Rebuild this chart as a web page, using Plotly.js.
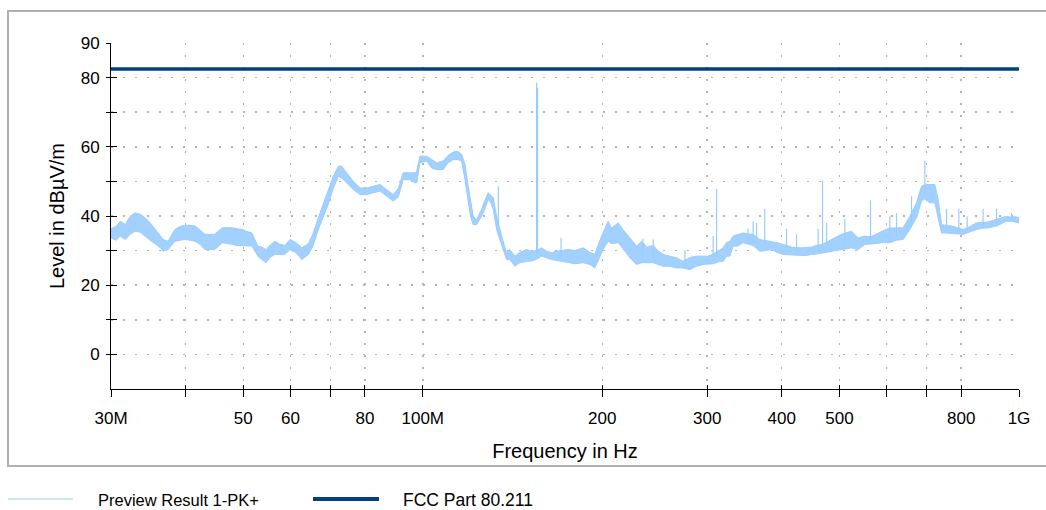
<!DOCTYPE html>
<html>
<head>
<meta charset="utf-8">
<script src="https://cdn.plot.ly/plotly-3.0.1.min.js"></script>
<style>
  html, body { margin: 0; padding: 0; background: #ffffff; }
  #chart { width: 1046px; height: 510px; }
</style>
</head>
<body>
<div id="chart"></div>
<script>
// ---- Data ----
// Preview Result 1-PK+ : envelope of the measured trace (MHz, dBµV/m)
const freqMHz = [
  30.0, 30.6, 31.1, 31.7, 32.3, 32.9, 33.6, 34.2, 34.9, 35.6, 36.3, 36.7, 37.4, 38.4, 39.2, 39.9,
  40.7, 41.5, 42.3, 43.1, 44.0, 44.8, 46.1, 47.0, 47.9, 48.8, 49.8, 50.7, 51.7, 52.9, 53.7, 54.6,
  55.4, 56.5, 57.6, 58.7, 59.9, 61.3, 62.7, 64.3, 65.5, 66.8, 68.1, 69.4, 70.8, 72.2, 73.1, 74.5,
  76.5, 78.5, 80.5, 82.6, 84.8, 87.0, 89.2, 91.0, 92.7, 95.1, 97.0, 97.7, 98.9, 101.5, 103.5, 105.5,
  108.2, 110.3, 112.5, 114.5, 116.2, 117.7, 119.2, 120.2, 121.5, 123.1, 125.5, 127.1, 128.7, 130.1, 131.3, 133.0,
  134.2, 135.6, 138.2, 140.0, 142.7, 145.5, 149.3, 152.4, 155.2, 158.2, 161.3, 164.5, 167.2, 170.3, 175.3, 179.9,
  185.8, 190.7, 194.4, 196.9, 200.7, 204.6, 207.3, 212.7, 216.8, 222.5, 228.4, 232.8, 237.6, 243.5, 247.9, 253.0,
  259.7, 266.5, 273.0, 280.5, 287.9, 295.3, 300.7, 306.9, 315.0, 319.0, 323.2, 327.4, 331.6, 337.6, 344.6, 351.3,
  358.2, 367.6, 374.5, 384.6, 392.5, 402.2, 415.9, 431.8, 440.2, 448.8, 457.5, 468.3, 484.8, 494.3, 503.9, 523.7,
  537.2, 551.3, 563.6, 573.0, 588.1, 597.9, 607.2, 623.1, 639.2, 656.0, 673.2, 686.3, 695.1, 708.6, 722.5, 731.7,
  741.4, 755.8, 770.6, 792.6, 805.9, 818.4, 848.6, 870.5, 882.0, 916.8, 934.6, 952.8, 971.4, 985.0, 1000.0
];
const levelHigh = [
  36.3, 37.0, 38.5, 37.5, 39.9, 40.9, 40.5, 39.5, 38.0, 36.1, 34.5, 33.2, 32.7, 36.1, 37.0, 37.3,
  37.3, 37.1, 36.0, 34.7, 34.7, 34.7, 36.6, 36.6, 36.6, 36.3, 36.1, 35.5, 35.1, 31.3, 31.0, 30.3,
  31.5, 32.7, 31.8, 31.5, 33.2, 32.3, 30.8, 32.0, 35.0, 39.5, 43.3, 47.2, 51.5, 54.4, 54.4, 52.5,
  50.0, 48.1, 48.1, 48.6, 49.1, 47.6, 46.2, 48.0, 52.5, 52.5, 52.5, 52.9, 57.3, 57.3, 56.3, 55.4,
  55.9, 57.5, 58.5, 58.7, 57.8, 55.0, 48.6, 44.8, 39.9, 39.0, 41.9, 44.5, 46.7, 46.0, 45.3, 39.9,
  37.0, 34.2, 29.4, 30.3, 28.4, 29.5, 30.3, 29.8, 30.0, 30.8, 29.8, 29.4, 29.8, 30.0, 30.3, 30.0,
  30.8, 29.5, 28.9, 31.8, 35.1, 38.5, 36.5, 38.0, 36.0, 33.7, 31.3, 32.7, 31.0, 31.5, 30.0, 28.9,
  28.5, 27.9, 26.9, 28.0, 28.4, 28.4, 28.4, 29.0, 30.3, 30.8, 32.3, 32.7, 34.2, 34.7, 35.1, 34.8,
  34.7, 33.2, 33.0, 32.7, 32.3, 31.8, 31.0, 30.8, 30.8, 31.0, 31.5, 31.8, 33.2, 34.0, 34.7, 35.6,
  33.7, 34.2, 34.0, 34.5, 35.6, 36.1, 36.5, 36.6, 36.6, 39.9, 43.8, 48.6, 49.0, 49.1, 49.1, 44.8,
  37.5, 37.3, 37.1, 36.5, 36.1, 36.5, 38.0, 38.2, 38.2, 39.0, 39.5, 39.9, 39.6, 39.8, 39.5
];
const levelLow = [
  33.7, 33.0, 34.2, 33.2, 34.7, 35.6, 35.3, 34.2, 33.0, 31.8, 30.8, 29.8, 30.3, 32.7, 33.0, 33.2,
  33.0, 32.7, 31.8, 30.3, 30.3, 30.3, 32.3, 32.0, 31.8, 31.5, 31.3, 31.3, 31.3, 28.4, 27.4, 26.5,
  28.0, 28.9, 28.9, 28.9, 30.3, 29.4, 27.4, 28.9, 31.5, 36.1, 39.5, 43.3, 48.1, 51.5, 51.0, 49.6,
  47.6, 46.2, 46.2, 46.7, 47.2, 45.7, 44.3, 45.5, 50.5, 50.5, 49.6, 49.6, 55.4, 55.9, 53.9, 53.4,
  53.4, 55.4, 56.3, 56.3, 55.9, 50.5, 44.3, 40.0, 37.5, 37.5, 39.9, 42.0, 44.8, 43.8, 41.9, 36.1,
  34.0, 31.3, 27.4, 27.4, 25.5, 26.5, 26.9, 27.0, 27.5, 28.4, 27.9, 27.4, 27.0, 26.8, 26.5, 26.2,
  26.5, 26.0, 25.0, 27.4, 30.3, 32.7, 32.0, 32.3, 30.5, 27.9, 26.0, 26.5, 26.5, 26.5, 26.0, 25.5,
  25.5, 25.0, 25.0, 24.5, 25.5, 26.0, 26.0, 26.2, 26.9, 26.9, 28.4, 28.4, 31.3, 31.3, 32.3, 31.8,
  31.5, 29.8, 30.0, 30.3, 29.5, 28.9, 28.8, 28.6, 28.6, 28.9, 29.0, 29.3, 29.8, 30.0, 30.3, 30.8,
  30.3, 31.8, 32.0, 32.0, 32.3, 32.3, 32.3, 33.0, 33.2, 36.1, 39.5, 44.3, 45.0, 43.8, 43.8, 39.9,
  35.1, 35.1, 35.1, 34.8, 34.7, 35.0, 36.1, 36.5, 36.5, 37.1, 37.8, 38.5, 38.5, 38.3, 38.0
];
// Narrow spikes of the same trace (MHz, top and foot in dBµV/m)
const spikeMHz  = [133.9, 155.2, 155.8, 170.6, 234.0, 243.5, 275.2, 306.9, 311.0, 351.3, 358.2, 362.9, 374.5, 407.5, 423.5, 460.4,
                   468.3, 475.6, 510.4, 563.6, 607.2, 623.1, 660.3, 695.1, 755.8, 792.6, 818.4, 870.5, 916.8, 971.4];
const spikeTop  = [48.6, 78.5, 77.0, 33.7, 33.5, 33.2, 30.1, 34.2, 47.8, 36.3, 38.5, 38.0, 42.1, 36.3, 34.7, 36.3,
                   50.2, 38.0, 39.2, 44.5, 39.9, 40.9, 45.7, 56.0, 42.1, 42.1, 39.9, 42.1, 42.1, 40.9];
const spikeBase = [37.0, 29.0, 29.0, 28.0, 28.0, 28.0, 26.0, 27.0, 28.0, 32.0, 32.0, 32.0, 31.0, 30.0, 30.0, 30.0,
                   30.0, 31.0, 32.0, 33.0, 34.0, 34.0, 38.0, 46.0, 36.0, 36.0, 36.0, 37.0, 38.0, 39.0];

// FCC Part 80.211 limit line
const limitMHz = [30, 1000];
const limitDb  = [82.5, 82.5];

// Axis ticks
const xTickVals = [30, 40, 50, 60, 70, 80, 100, 200, 300, 400, 500, 600, 700, 800, 1000];
const xTickText = ['30M', '', '50', '60', '', '80', '100M', '200', '300', '400', '500', '', '', '800', '1G'];
const yTickVals = [0, 10, 20, 30, 40, 50, 60, 70, 80, 90];
const yTickText = ['0', '', '20', '', '40', '', '60', '', '80', '90'];

const legendNames = ['Preview Result 1-PK+', 'FCC Part 80.211'];

// ---- Build traces ----
const traceColor = '#99ccff';
const limitColor = '#003f80';

const bandX = freqMHz.concat(freqMHz.slice().reverse());
const bandY = levelHigh.concat(levelLow.slice().reverse());

const spikeX = [], spikeY = [];
spikeMHz.forEach((f, i) => { spikeX.push(f, f, null); spikeY.push(spikeBase[i], spikeTop[i], null); });

const traces = [
  { x: bandX, y: bandY, type: 'scatter', mode: 'lines', fill: 'toself',
    fillcolor: 'rgba(153,204,255,0.9)', line: { color: traceColor, width: 1 },
    name: legendNames[0], showlegend: false, hoverinfo: 'skip' },
  { x: spikeX, y: spikeY, type: 'scatter', mode: 'lines',
    line: { color: traceColor, width: 1.2 }, name: legendNames[0], showlegend: false, hoverinfo: 'skip' },
  { x: limitMHz, y: limitDb, type: 'scatter', mode: 'lines', xaxis: 'x2', yaxis: 'y2',
    line: { color: limitColor, width: 3.5 }, name: legendNames[1], showlegend: false }
];

// ---- Layout ----
const L = 111, R = 27, T = 43, B = 121, W = 1046, H = 510;
const pw = W - L - R, ph = H - T - B;
const px = v => (v - L) / pw;            // pixel -> paper x
const py = v => (H - B - v) / ph;        // pixel -> paper y

const fontFam = 'Liberation Sans, Arial, Helvetica, sans-serif';
const xr = [Math.log10(30), Math.log10(1000)];
const yr = [-10, 90];

const layout = {
  width: W, height: H,
  margin: { l: L, r: R, t: T, b: B, pad: 0 },
  paper_bgcolor: '#ffffff', plot_bgcolor: '#ffffff',
  font: { family: fontFam, size: 17, color: '#000000' },
  showlegend: false,
  xaxis: {
    type: 'log', range: xr, autorange: false,
    tickmode: 'array', tickvals: xTickVals, ticktext: xTickText,
    ticks: 'outside', ticklen: 7, tickwidth: 1, tickcolor: '#000',
    showline: true, linecolor: '#000', linewidth: 1, zeroline: false,
    showgrid: true, gridcolor: '#b4b4b4', gridwidth: 1.5, griddash: '1.5px,10.5px',
    tickfont: { size: 17 }, ticklabelstandoff: 7,
    title: { text: 'Frequency in Hz', font: { size: 20 }, standoff: 16 }
  },
  yaxis: {
    range: yr, autorange: false,
    tickmode: 'array', tickvals: yTickVals, ticktext: yTickText,
    ticks: 'outside', ticklen: 4, tickwidth: 1, tickcolor: '#000',
    showline: true, linecolor: '#000', linewidth: 1, zeroline: false,
    showgrid: true, gridcolor: '#b4b4b4', gridwidth: 1.5, griddash: '1.5px,10.5px',
    tickfont: { size: 17 }, ticklabelstandoff: 3,
    title: { text: 'Level in dBµV/m', font: { size: 20 }, standoff: 10 }
  },
  xaxis2: {
    type: 'log', range: xr, autorange: false, overlaying: 'x', anchor: 'y2', side: 'bottom',
    tickmode: 'array', tickvals: xTickVals, ticks: 'inside', ticklen: 4, tickcolor: '#000',
    showticklabels: false, showgrid: false, showline: false, zeroline: false
  },
  yaxis2: {
    range: yr, autorange: false, overlaying: 'y', anchor: 'x2', side: 'left',
    tickmode: 'array', tickvals: yTickVals, ticks: 'inside', ticklen: 6, tickcolor: '#000',
    showticklabels: false, showgrid: false, showline: false, zeroline: false
  },
  shapes: [
    // outer frame
    { type: 'rect', xref: 'paper', yref: 'paper', x0: px(8), x1: px(1052), y0: py(466), y1: py(11),
      line: { color: '#b0b0b0', width: 2 }, fillcolor: 'rgba(0,0,0,0)', layer: 'below' },
    // legend samples
    { type: 'line', xref: 'paper', yref: 'paper', x0: px(8), x1: px(73), y0: py(499), y1: py(499),
      line: { color: traceColor, width: 1.2 } },
    { type: 'line', xref: 'paper', yref: 'paper', x0: px(313), x1: px(379), y0: py(499), y1: py(499),
      line: { color: limitColor, width: 4 } }
  ],
  annotations: [
    { xref: 'paper', yref: 'paper', x: px(96), y: py(500), xanchor: 'left', yanchor: 'middle',
      text: legendNames[0], showarrow: false, font: { size: 16.5 } },
    { xref: 'paper', yref: 'paper', x: px(401), y: py(500), xanchor: 'left', yanchor: 'middle',
      text: legendNames[1], showarrow: false, font: { size: 17.5 } }
  ]
};

Plotly.newPlot('chart', traces, layout, { displayModeBar: false, staticPlot: true });
</script>
</body>
</html>
